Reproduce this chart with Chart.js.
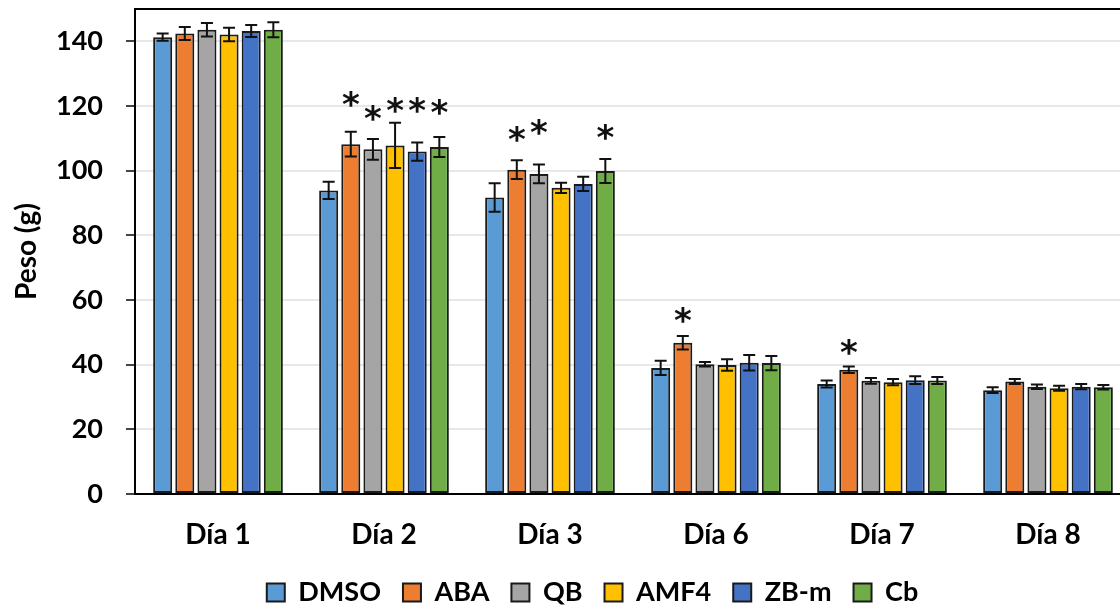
<!DOCTYPE html>
<html>
<head>
<meta charset="utf-8">
<script src="https://cdn.jsdelivr.net/npm/chart.js@4/dist/chart.umd.min.js"></script>
<style>
  html, body { margin: 0; padding: 0; background: #fff; overflow: hidden; }
  #wrap { width: 1196px; height: 608px; }
</style>
</head>
<body>
<div id="wrap"><canvas id="chart" width="1196" height="608"></canvas></div>
<script>
const days = ["Día 1", "Día 2", "Día 3", "Día 6", "Día 7", "Día 8"];
const treatments = ["DMSO", "ABA", "QB", "AMF4", "ZB-m", "Cb"];
const colors = ["#5B9BD5", "#ED7D31", "#A5A5A5", "#FFC000", "#4472C4", "#70AD47"];

// mean weight (g) per treatment, one value per day
const dmso = [141.3, 93.9, 91.7, 39.0, 34.0, 32.1];
const aba = [142.4, 108.2, 100.3, 46.8, 38.4, 34.8];
const qb = [143.6, 106.6, 99.0, 40.1, 35.0, 33.2];
const amf4 = [142.1, 107.8, 94.7, 39.9, 34.6, 32.7];
const zbm = [143.2, 105.9, 95.9, 40.6, 35.2, 33.2];
const cb = [143.6, 107.3, 99.9, 40.5, 35.1, 33.0];

// error (+/-)
const dmsoErr = [1.1, 2.7, 4.4, 2.2, 1.1, 0.9];
const abaErr = [2.0, 3.8, 2.9, 2.1, 1.0, 0.8];
const qbErr = [2.1, 3.2, 2.9, 0.7, 0.9, 0.7];
const amf4Err = [2.1, 7.0, 1.6, 1.75, 1.0, 0.8];
const zbmErr = [1.85, 2.8, 2.2, 2.4, 1.2, 0.8];
const cbErr = [2.3, 3.1, 3.7, 2.2, 1.1, 0.7];

// significance marks: height (g) where the asterisk sits, null = none
const dmsoStar = [null, null, null, null, null, null];
const abaStar = [null, 122.1, 111.4, 55.3, 45.3, null];
const qbStar = [null, 117.8, 113.5, null, null, null];
const amf4Star = [null, 120.2, null, null, null, null];
const zbmStar = [null, 120.2, null, null, null, null];
const cbStar = [null, 119.7, 112.0, null, null, null];

const yTicks = [0, 20, 40, 60, 80, 100, 120, 140];

const values = [dmso, aba, qb, amf4, zbm, cb];
const errors = [dmsoErr, abaErr, qbErr, amf4Err, zbmErr, cbErr];
const stars = [dmsoStar, abaStar, qbStar, amf4Star, zbmStar, cbStar];

const FONT = "Lato, 'Open Sans', sans-serif";

const errorBars = {
    id: "errorBars",
    afterDatasetsDraw(chart) {
        const ctx = chart.ctx;
        const y = chart.scales.y;
        ctx.save();
        ctx.strokeStyle = "#111";
        ctx.lineWidth = 2;
        chart.data.datasets.forEach((ds, i) => {
            const meta = chart.getDatasetMeta(i);
            meta.data.forEach((bar, j) => {
                const v = ds.data[j];
                const e = errors[i][j];
                const top = y.getPixelForValue(v + e);
                const bot = y.getPixelForValue(v - e);
                ctx.beginPath();
                ctx.moveTo(bar.x, top);
                ctx.lineTo(bar.x, bot);
                ctx.moveTo(bar.x - 6, top);
                ctx.lineTo(bar.x + 6, top);
                ctx.moveTo(bar.x - 6, bot);
                ctx.lineTo(bar.x + 6, bot);
                ctx.stroke();
            });
        });
        ctx.fillStyle = "#111";
        ctx.font = "bold 34px 'DejaVu Sans', sans-serif";
        ctx.textAlign = "center";
        ctx.textBaseline = "middle";
        chart.data.datasets.forEach((ds, i) => {
            const meta = chart.getDatasetMeta(i);
            meta.data.forEach((bar, j) => {
                const s = stars[i][j];
                if (s === null) return;
                ctx.fillText("*", bar.x, y.getPixelForValue(s) + 8);
            });
        });
        // top border of plot area
        const a = chart.chartArea;
        ctx.strokeStyle = "#000";
        ctx.lineWidth = 2;
        ctx.beginPath();
        ctx.moveTo(a.left, a.top);
        ctx.lineTo(a.right, a.top);
        ctx.stroke();
        ctx.restore();
    }
};

new Chart(document.getElementById("chart"), {
    type: "bar",
    data: {
        labels: days,
        datasets: treatments.map((name, i) => ({
            label: name,
            data: values[i],
            backgroundColor: colors[i],
            borderColor: "#1a1a1a",
            borderWidth: 2,
            borderSkipped: false,
            categoryPercentage: 0.8,
            barPercentage: 0.86,
        })),
    },
    options: {
        responsive: false,
        animation: false,
        devicePixelRatio: 1,
        layout: { padding: { top: 9, right: 65, left: 54, bottom: -8 } },
        scales: {
            x: {
                grid: { display: false, drawTicks: false },
                border: { display: true, color: "#000", width: 2 },
                ticks: {
                    color: "#000",
                    padding: 24,
                    font: { family: FONT, size: 28, weight: "bold" },
                },
                afterFit(s) { s.height = 63; },
            },
            y: {
                min: 0,
                max: 150,
                afterBuildTicks(s) { s.ticks = yTicks.map((v) => ({ value: v })); },
                grid: { color: "#e8e8e8", lineWidth: 2, tickColor: "#444", tickLength: 9 },
                border: { display: true, color: "#000", width: 2 },
                ticks: {
                    color: "#000",
                    padding: 23,
                    font: { family: FONT, size: 27, weight: "bold" },
                },
                title: {
                    display: true,
                    text: "Peso (g)",
                    color: "#000",
                    padding: { top: -44, bottom: 0 },
                    font: { family: FONT, size: 28, weight: "bold" },
                },
                afterFit(s) { s.width = 81; s.paddingTop = 0; s.paddingBottom = 0; },
            },
        },
        plugins: {
            legend: {
                position: "bottom",
                labels: {
                    color: "#000",
                    boxWidth: 18,
                    boxHeight: 18,
                    padding: 22,
                    font: { family: FONT, size: 27, weight: "bold" },
                },
            },
            tooltip: { enabled: false },
        },
    },
    plugins: [errorBars],
});
</script>
</body>
</html>
